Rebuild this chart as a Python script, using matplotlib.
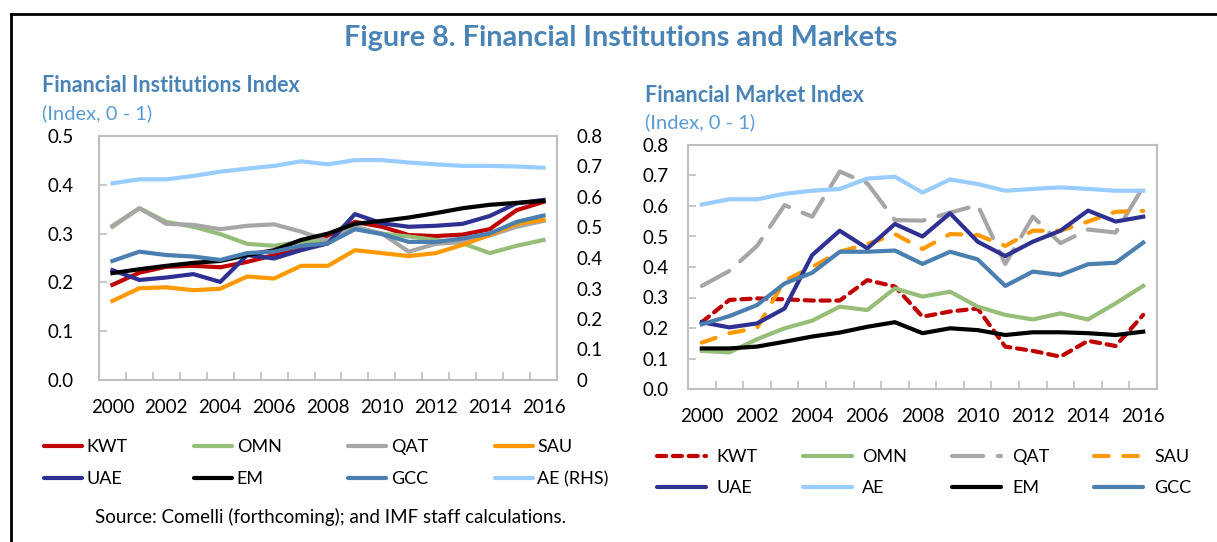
import numpy as np
import matplotlib
matplotlib.use('Agg')
import matplotlib.pyplot as plt
from matplotlib.lines import Line2D

plt.rcParams['font.family'] = ['Lato', 'DejaVu Sans']

years = list(range(2000, 2017))

# Financial Institutions Index (left panel)
fi_kwt = [0.195, 0.220, 0.232, 0.234, 0.231, 0.242, 0.256, 0.273, 0.296, 0.324, 0.314, 0.297, 0.295, 0.298, 0.309, 0.348, 0.365]
fi_omn = [0.314, 0.352, 0.324, 0.314, 0.299, 0.279, 0.275, 0.283, 0.287, 0.313, 0.300, 0.294, 0.287, 0.280, 0.260, 0.275, 0.287]
fi_qat = [0.316, 0.352, 0.320, 0.318, 0.309, 0.316, 0.319, 0.304, 0.285, 0.314, 0.300, 0.263, 0.279, 0.283, 0.296, 0.314, 0.326]
fi_sau = [0.162, 0.188, 0.190, 0.184, 0.187, 0.212, 0.208, 0.234, 0.234, 0.266, 0.260, 0.254, 0.260, 0.277, 0.297, 0.320, 0.328]
fi_uae = [0.225, 0.205, 0.210, 0.217, 0.201, 0.256, 0.249, 0.266, 0.280, 0.340, 0.321, 0.314, 0.316, 0.320, 0.336, 0.362, 0.369]
fi_em = [0.219, 0.227, 0.234, 0.240, 0.244, 0.256, 0.266, 0.287, 0.300, 0.320, 0.326, 0.333, 0.342, 0.352, 0.359, 0.363, 0.367]
fi_gcc = [0.244, 0.263, 0.256, 0.253, 0.246, 0.260, 0.263, 0.275, 0.280, 0.309, 0.299, 0.283, 0.283, 0.290, 0.300, 0.324, 0.337]
fi_ae = [0.645, 0.658, 0.658, 0.669, 0.683, 0.693, 0.702, 0.717, 0.707, 0.721, 0.721, 0.713, 0.707, 0.702, 0.702, 0.700, 0.696]

# Financial Market Index (right panel)
fm_kwt = [0.219, 0.292, 0.297, 0.294, 0.290, 0.290, 0.357, 0.336, 0.237, 0.254, 0.264, 0.139, 0.125, 0.106, 0.158, 0.141, 0.243]
fm_omn = [0.125, 0.120, 0.163, 0.199, 0.224, 0.270, 0.259, 0.330, 0.303, 0.319, 0.270, 0.243, 0.228, 0.248, 0.228, 0.281, 0.338]
fm_qat = [0.338, 0.387, 0.469, 0.603, 0.565, 0.713, 0.674, 0.554, 0.552, 0.578, 0.603, 0.410, 0.565, 0.478, 0.523, 0.513, 0.663]
fm_sau = [0.152, 0.183, 0.200, 0.355, 0.400, 0.450, 0.475, 0.508, 0.459, 0.508, 0.505, 0.469, 0.519, 0.519, 0.549, 0.581, 0.584]
fm_uae = [0.219, 0.202, 0.215, 0.264, 0.439, 0.519, 0.461, 0.541, 0.500, 0.576, 0.483, 0.436, 0.483, 0.519, 0.585, 0.549, 0.565]
fm_ae = [0.605, 0.622, 0.622, 0.640, 0.650, 0.656, 0.690, 0.696, 0.644, 0.687, 0.672, 0.650, 0.656, 0.661, 0.656, 0.650, 0.650]
fm_em = [0.133, 0.133, 0.139, 0.155, 0.172, 0.185, 0.204, 0.219, 0.183, 0.199, 0.193, 0.177, 0.186, 0.186, 0.183, 0.177, 0.188]
fm_gcc = [0.212, 0.239, 0.275, 0.346, 0.381, 0.450, 0.450, 0.454, 0.410, 0.450, 0.425, 0.338, 0.385, 0.374, 0.409, 0.414, 0.480]

c_kwt = '#C00000'
c_omn = '#96BE78'
c_qat = '#A6A6A6'
c_sau = '#FF9900'
c_uae = '#2E3192'
c_em = '#000000'
c_gcc = '#4A7FB0'
c_ae = '#99CCFF'
c_title = '#4A84B6'
c_sub = '#5B9BD5'
c_spine = '#BFBFBF'

W, H = 1217, 542
fig = plt.figure(figsize=(W / 100, H / 100), dpi=100)

def px(x0, y0, x1, y1):
    return [x0 / W, 1 - y1 / H, (x1 - x0) / W, (y1 - y0) / H]

def style_axes(ax, pad_y, pad_x=14):
    for s in ax.spines.values():
        s.set_color(c_spine)
        s.set_linewidth(1.5)
    ax.set_xlim(-0.5, len(years) - 0.5)
    ax.set_xticks(range(0, len(years), 2))
    ax.set_xticklabels([str(y) for y in years[::2]])
    ax.set_xticks(np.arange(0.5, len(years) - 1, 1), minor=True)
    ax.tick_params(axis='x', which='major', length=0, pad=pad_x, labelsize=13.5)
    ax.tick_params(axis='x', which='minor', direction='in', length=6, color=c_spine, width=1.2)
    ax.tick_params(axis='y', direction='in', length=6, color=c_spine, width=1.2, pad=pad_y, labelsize=13.5)

def rowwise(handles, ncol=4):
    # matplotlib fills legend columns first; reorder so entries read across rows
    nrow = len(handles) // ncol
    return [handles[r * ncol + c] for c in range(ncol) for r in range(nrow)]

lw = 3.0
x = np.arange(len(years))

# left panel
ax1 = fig.add_axes(px(99, 136, 557, 380))
style_axes(ax1, pad_y=18)
ax1.set_ylim(0, 0.5)
ax1.set_yticks(np.arange(0, 0.51, 0.1))
ax1.set_yticklabels(['%.1f' % v for v in np.arange(0, 0.51, 0.1)])
h = []
h += ax1.plot(x, fi_kwt, color=c_kwt, lw=lw, label='KWT')
h += ax1.plot(x, fi_omn, color=c_omn, lw=lw, label='OMN')
h += ax1.plot(x, fi_qat, color=c_qat, lw=lw, label='QAT')
h += ax1.plot(x, fi_sau, color=c_sau, lw=lw, label='SAU')
h += ax1.plot(x, fi_uae, color=c_uae, lw=lw, label='UAE')
h += ax1.plot(x, fi_em, color=c_em, lw=lw, label='EM')
h += ax1.plot(x, fi_gcc, color=c_gcc, lw=lw, label='GCC')
ax1b = ax1.twinx()
ax1b.set_ylim(0, 0.8)
ax1b.set_yticks(np.arange(0, 0.81, 0.1))
ax1b.set_yticklabels(['0'] + ['%.1f' % v for v in np.arange(0.1, 0.81, 0.1)])
ax1b.tick_params(axis='y', length=0, pad=14, labelsize=13.5)
for s in ax1b.spines.values():
    s.set_visible(False)
h += ax1b.plot(x, fi_ae, color=c_ae, lw=lw, label='AE (RHS)')
ax1b.set_xlim(-0.5, len(years) - 0.5)

leg1 = ax1b.legend(handles=rowwise(h), loc='upper left', bbox_to_anchor=(44 / W, 1 - 439 / H),
                   bbox_transform=fig.transFigure, ncol=4, frameon=False, fontsize=13,
                   handlelength=2.1, handletextpad=0.25, columnspacing=3.7, labelspacing=0.88,
                   borderaxespad=0, borderpad=0)
for ln in leg1.get_lines():
    ln.set_solid_capstyle('round')

# right panel
ax2 = fig.add_axes(px(688, 145, 1157, 389))
style_axes(ax2, pad_y=14, pad_x=14)
ax2.set_ylim(0, 0.8)
ax2.set_yticks(np.arange(0, 0.81, 0.1))
ax2.set_yticklabels(['%.1f' % v for v in np.arange(0, 0.81, 0.1)])
g = []
g += ax2.plot(x, fm_kwt, color=c_kwt, lw=lw, dashes=(2.2, 1.6), dash_capstyle='round', label='KWT')
g += ax2.plot(x, fm_omn, color=c_omn, lw=lw, label='OMN')
g += ax2.plot(x, fm_qat, color=c_qat, lw=lw, dashes=(7.5, 3.5), dash_capstyle='round', label='QAT')
g += ax2.plot(x, fm_sau, color=c_sau, lw=lw, dashes=(3.5, 3.5), dash_capstyle='round', label='SAU')
g += ax2.plot(x, fm_uae, color=c_uae, lw=lw, label='UAE')
g += ax2.plot(x, fm_ae, color=c_ae, lw=lw, label='AE')
g += ax2.plot(x, fm_em, color=c_em, lw=lw, label='EM')
g += ax2.plot(x, fm_gcc, color=c_gcc, lw=lw, label='GCC')

leg2 = ax2.legend(handles=rowwise(g), loc='upper left', bbox_to_anchor=(657 / W, 1 - 449 / H),
                  bbox_transform=fig.transFigure, ncol=4, frameon=False, fontsize=13,
                  handlelength=2.7, handletextpad=0.6, columnspacing=2.5, labelspacing=0.83,
                  borderaxespad=0, borderpad=0)
for ln in leg2.get_lines():
    ln.set_solid_capstyle('round')

# titles and notes
fig.text(621 / W, 1 - 38 / H, 'Figure 8. Financial Institutions and Markets', ha='center', va='center',
         fontsize=20.7, fontweight='bold', color=c_title)
fig.text(42 / W, 1 - 86 / H, 'Financial Institutions Index', ha='left', va='center',
         fontsize=15.5, fontweight='bold', color=c_title)
fig.text(42 / W, 1 - 113 / H, '(Index, 0 - 1)', ha='left', va='center', fontsize=14.5, color=c_sub)
fig.text(645 / W, 1 - 95 / H, 'Financial Market Index', ha='left', va='center',
         fontsize=15.5, fontweight='bold', color=c_title)
fig.text(645 / W, 1 - 122 / H, '(Index, 0 - 1)', ha='left', va='center', fontsize=14.5, color=c_sub)
fig.text(95 / W, 1 - 517 / H, 'Source: Comelli (forthcoming); and IMF staff calculations.', ha='left',
         va='center', fontsize=13.5, color='#000000')

# frame lines
fig.add_artist(Line2D([11 / W, 1], [1 - 14 / H, 1 - 14 / H], transform=fig.transFigure, color='black', lw=2))
fig.add_artist(Line2D([11 / W, 11 / W], [0, 1 - 14 / H], transform=fig.transFigure, color='black', lw=2))

fig.savefig('out.png', dpi=100)
